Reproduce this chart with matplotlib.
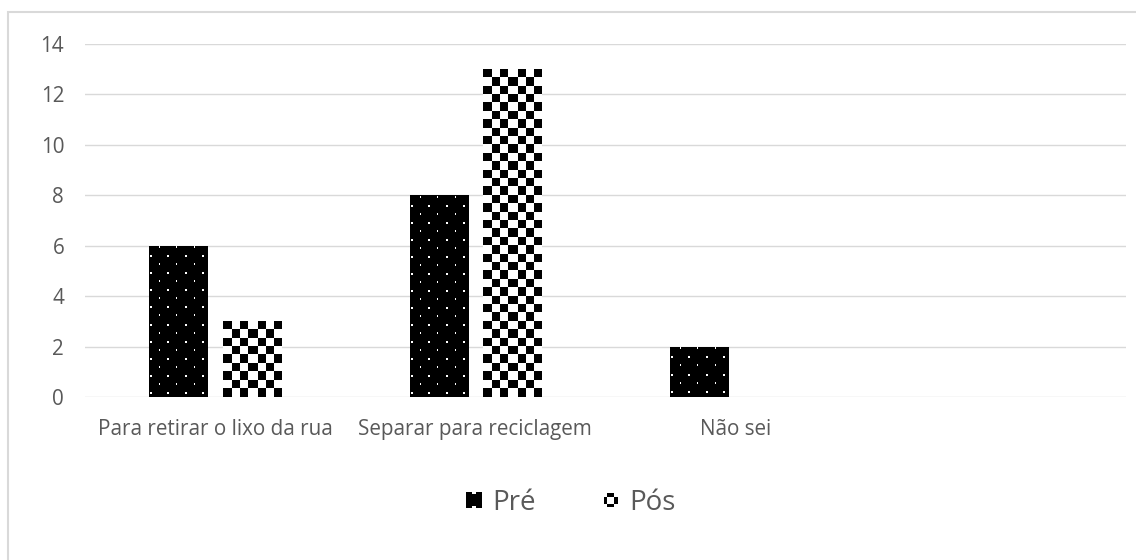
import numpy as np
import matplotlib
matplotlib.use('Agg')
import matplotlib.pyplot as plt
from matplotlib.patches import Rectangle
from matplotlib.legend_handler import HandlerBase

categories = ['Para retirar o lixo da rua', 'Separar para reciclagem', 'Não sei', '']
pre = [6, 8, 2, 0]
pos = [3, 13, 0, 0]
series_names = ['Pré', 'Pós']
yticks = [0, 2, 4, 6, 8, 10, 12, 14]

text_color = '#595959'
grid_color = '#d9d9d9'

plt.rcParams['font.family'] = ['Open Sans', 'DejaVu Sans']


def checker(xx, yy, w, h):
    cell_x = w / 7.0
    cell_y = 25.2 / 3.0
    return ((xx // cell_x).astype(int) + (yy // cell_y).astype(int)) % 2


def dots(xx, yy, w, h):
    # white dots on black, staggered rows, big and small dots alternating
    ry = (h - 1 - yy + 7) % 17
    rx = (xx - 1) % 17
    big = (ry < 2) & (rx < 2)
    small = (ry >= 8) & (ry < 10) & (rx == 9)
    return (big | small).astype(float)


def pattern_fill(ax, bar, fn, value):
    if value <= 0:
        return
    bb = bar.get_window_extent()
    w = max(int(round(bb.width)), 1)
    h = max(int(round(bb.height)), 1)
    yy, xx = np.mgrid[0:h, 0:w]
    img = fn(xx, yy, w, h)
    x0 = bar.get_x()
    im = ax.imshow(img, extent=(x0, x0 + bar.get_width(), 0, value), origin='lower',
                   cmap='gray', vmin=0, vmax=1, interpolation='nearest', aspect='auto',
                   zorder=3)
    im.set_clip_path(bar)


class GridHandler(HandlerBase):
    def __init__(self, cells, px):
        super().__init__()
        self.cells = np.array(cells)
        self.px = px

    def create_artists(self, legend, orig_handle, xdescent, ydescent, width, height, fontsize, trans):
        n = self.cells.shape[0]
        size = self.px * 72 / legend.figure.dpi
        x0 = -xdescent + (width - size) / 2
        y0 = -ydescent + (height - size) / 2
        step = size / n
        arts = []
        for i in range(n):
            for j in range(n):
                fc = 'black' if self.cells[i, j] else 'white'
                arts.append(Rectangle((x0 + j * step, y0 + (n - 1 - i) * step), step, step,
                                      facecolor=fc, edgecolor='none', lw=0, transform=trans))
        return arts


fig = plt.figure(figsize=(11.36, 5.6), dpi=100)
ax = fig.add_axes([85 / 1136, 1 - 397 / 560, (1126 - 85) / 1136, (397 - 44) / 560])

x = np.arange(len(categories))
width = 0.223
offset = 0.141

ax.set_xlim(-0.5, len(categories) - 0.5)
ax.set_ylim(0, 14)

bars_pre = ax.bar(x - offset, pre, width, color='black', zorder=2, linewidth=0)
bars_pos = ax.bar(x + offset, pos, width, color='white', zorder=2, linewidth=0)

for b, v in zip(bars_pre, pre):
    pattern_fill(ax, b, dots, v)
for b, v in zip(bars_pos, pos):
    pattern_fill(ax, b, checker, v)

ax.set_xlim(-0.5, len(categories) - 0.5)
ax.set_ylim(0, 14)
ax.set_yticks(yticks)
ax.set_xticks(x)
ax.set_xticklabels(categories)
ax.grid(axis='y', color=grid_color, linewidth=1.0)
ax.set_axisbelow(True)
for s in ax.spines.values():
    s.set_visible(False)
ax.tick_params(axis='both', length=0, labelsize=14.9, colors=text_color)
ax.tick_params(axis='y', pad=15)
ax.tick_params(axis='x', pad=16)

# outer chart frame
fig.patches.append(Rectangle((7.5 / 1136, -0.1), 1.2, 1.1 - 11.5 / 560, transform=fig.transFigure,
                             fill=False, edgecolor=grid_color, linewidth=1.5))

h_pre = Rectangle((0, 0), 1, 1, color='black')
h_pos = Rectangle((0, 0), 1, 1, color='white')
pre_cells = np.ones((8, 8), dtype=int)
pre_cells[0, 3:5] = 0
pre_cells[7, 3:5] = 0
pos_cells = [[0, 1, 1, 0], [1, 0, 0, 1], [1, 0, 0, 1], [0, 1, 1, 0]]
leg = fig.legend([h_pre, h_pos], series_names, loc='center', bbox_to_anchor=(570 / 1136, 1 - 503 / 560),
                 ncol=2, frameon=False, fontsize=20, handlelength=0.7, handletextpad=0.3,
                 columnspacing=2.35,
                 handler_map={h_pre: GridHandler(pre_cells, 16), h_pos: GridHandler(pos_cells, 14)})
for t in leg.get_texts():
    t.set_color(text_color)

fig.savefig('out.png', dpi=100)
